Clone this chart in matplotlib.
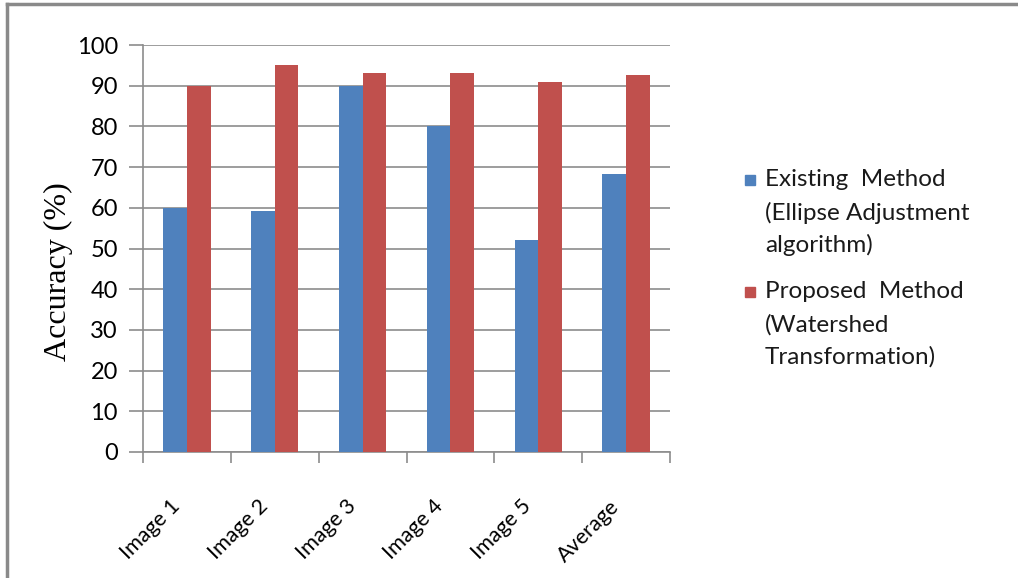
import matplotlib
matplotlib.use("Agg")
import matplotlib.pyplot as plt
import numpy as np
from matplotlib.lines import Line2D
from matplotlib.patches import Rectangle
import matplotlib.transforms as mtransforms

# Data
categories = ["Image 1", "Image 2", "Image 3", "Image 4", "Image 5", "Average"]
existing = [60, 59.2, 90, 80, 52, 68.2]
proposed = [90, 95.1, 93.1, 93.1, 91, 92.6]
legend_labels = [["Existing  Method", "(Ellipse Adjustment", "algorithm)"],
                 ["Proposed  Method", "(Watershed", "Transformation)"]]
colors = ["#4F81BD", "#C0504D"]

W, H = 1018, 578
fig = plt.figure(figsize=(W / 100, H / 100), dpi=100)
ax = fig.add_axes([143 / W, 1 - 452 / H, (670 - 143) / W, (452 - 45) / H])

x = np.arange(len(categories))
bw = 0.27
ax.bar(x - bw / 2, existing, bw, color=colors[0], zorder=3)
ax.bar(x + bw / 2, proposed, bw, color=colors[1], zorder=3)

ax.set_xlim(-0.5, len(categories) - 0.5)
ax.set_ylim(0, 100)
ax.set_yticks(range(0, 101, 10))
ax.yaxis.grid(True, color="#8c8c8c", linewidth=1.2, zorder=0)

grey = "#8c8c8c"
for s in ["top", "right"]:
    ax.spines[s].set_visible(False)
for s in ["left", "bottom"]:
    ax.spines[s].set_color(grey)
    ax.spines[s].set_linewidth(1.2)

ax.tick_params(axis="x", which="major", length=8, color=grey, width=1.2)
ax.tick_params(axis="x", which="minor", length=0, pad=37)
ax.tick_params(axis="y", length=10, color=grey, width=1.2, pad=8)

ax.set_xticks(np.arange(-0.5, len(categories), 1.0))
ax.set_xticklabels([])
ax.set_xticks(x, minor=True)
ax.set_xticklabels(categories, minor=True, rotation=45, ha="right", va="center",
                   rotation_mode="anchor", fontsize=15.5, family="Lato")
shift = mtransforms.ScaledTranslation(-10 / 100, 0, fig.dpi_scale_trans)
for lbl in ax.get_xticklabels(minor=True):
    lbl.set_transform(lbl.get_transform() + shift)
for lbl in ax.get_yticklabels():
    lbl.set_fontsize(17)
    lbl.set_family("Lato")

fig.text(58 / W, 1 - 272 / H, "Accuracy (%)", rotation=90, ha="center",
         va="center", fontsize=23, family="Liberation Serif")

# legend drawn by hand so the square lines up with the first line
starts = [180, 292]
for i, lines in enumerate(legend_labels):
    y0 = starts[i]
    fig.add_artist(Rectangle((745 / W, 1 - (y0 + 5) / H), 10 / W, 10 / H,
                             transform=fig.transFigure, color=colors[i]))
    for j, t in enumerate(lines):
        fig.text(765 / W, 1 - (y0 + j * 32.5) / H, t, ha="left", va="center",
                 fontsize=17.5, family="Lato", color="#1a1a1a")

# chart frame (top and left edges)
fig.add_artist(Line2D([7 / W, 1], [1 - 4 / H, 1 - 4 / H], color="#8a8a8a", linewidth=2.5))
fig.add_artist(Line2D([7 / W, 7 / W], [0, 1 - 4 / H], color="#8a8a8a", linewidth=2.5))

fig.savefig("out.png", dpi=100)
